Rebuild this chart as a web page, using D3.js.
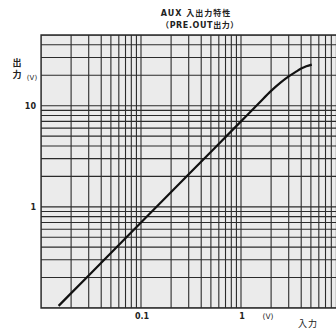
<!DOCTYPE html>
<html>
<head>
<meta charset="utf-8">
<script src="https://cdn.jsdelivr.net/npm/d3@7"></script>
<style>
  body { margin: 0; background: #fff; }
  svg text { font-family: "DejaVu Sans", "Noto Sans CJK JP", sans-serif; fill: #222; }
</style>
</head>
<body>
<svg id="chart" width="336" height="332"></svg>
<script>
// input voltage (V) and output voltage (V)
const inputV = [0.015, 0.03, 0.1, 0.3, 1, 1.5, 2, 2.5, 3, 3.5, 4, 4.5, 5.1];
const outputV = [0.105, 0.21, 0.7, 2.1, 7.0, 10.5, 14, 17, 19.5, 21.5, 23.3, 24.5, 25.5];
const xTickLabels = [0.1, 1];
const yTickLabels = [1, 10];

const svg = d3.select("#chart");
const plotL = 41, plotR = 336, plotT = 35, plotB = 308;

const x = d3.scaleLog().domain([0.01, 9]).range([plotL, plotL + 100 * Math.log10(900)]);
const y = d3.scaleLog().domain([0.1, 50]).range([plotB, plotT]);

svg.append("defs").append("clipPath").attr("id", "plotClip")
  .append("rect").attr("x", plotL).attr("y", plotT)
  .attr("width", plotR - plotL).attr("height", plotB - plotT);

svg.append("rect")
  .attr("x", plotL).attr("y", plotT)
  .attr("width", plotR - plotL).attr("height", plotB - plotT)
  .attr("fill", "#ebebeb");

const g = svg.append("g").attr("clip-path", "url(#plotClip)");

// graph paper grid
const xGrid = [];
for (let d = 0.01; d < 10; d *= 10) for (let k = 1; k <= 9; k++) xGrid.push(d * k);
const yGrid = [];
for (let d = 0.1; d < 100; d *= 10) for (let k = 1; k <= 9; k++) yGrid.push(d * k);

g.selectAll(".vgrid").data(xGrid.filter(v => v <= 9)).enter().append("line")
  .attr("class", "vgrid")
  .attr("x1", d => x(d)).attr("x2", d => x(d))
  .attr("y1", plotT).attr("y2", plotB)
  .attr("stroke", "#2b2b2b").attr("stroke-width", 1.1);

g.selectAll(".hgrid").data(yGrid.filter(v => v <= 50)).enter().append("line")
  .attr("class", "hgrid")
  .attr("x1", plotL).attr("x2", plotR)
  .attr("y1", d => y(d)).attr("y2", d => y(d))
  .attr("stroke", "#2b2b2b").attr("stroke-width", 1.1);

// frame
svg.append("path")
  .attr("d", `M${plotR},${plotT}H${plotL}V${plotB}H${plotR}`)
  .attr("fill", "none").attr("stroke", "#2b2b2b").attr("stroke-width", 1.3);

// characteristic curve
const line = d3.line()
  .x((d, i) => x(inputV[i]))
  .y(d => y(d))
  .curve(d3.curveMonotoneX);

g.append("path")
  .attr("d", line(outputV))
  .attr("fill", "none").attr("stroke", "#111").attr("stroke-width", 2.2);

// axis labels
svg.selectAll(".xl").data(xTickLabels).enter().append("text")
  .attr("x", d => x(d) + 1).attr("y", 319)
  .attr("text-anchor", "middle").attr("font-size", 8).attr("font-weight", "bold")
  .text(d => d);

svg.selectAll(".yl").data(yTickLabels).enter().append("text")
  .attr("x", 36).attr("y", d => y(d) + 3)
  .attr("text-anchor", "end").attr("font-size", 8).attr("font-weight", "bold")
  .text(d => d);

svg.append("text").attr("x", 268).attr("y", 319).attr("text-anchor", "middle")
  .attr("font-size", 7.5).text("(V)");
svg.append("text").attr("x", 308).attr("y", 327).attr("text-anchor", "middle")
  .attr("font-size", 9).attr("letter-spacing", 1).text("入力");

svg.append("text").attr("x", 17).attr("y", 66).attr("text-anchor", "middle")
  .attr("font-size", 9).attr("font-weight", "bold").text("出");
svg.append("text").attr("x", 17).attr("y", 78).attr("text-anchor", "middle")
  .attr("font-size", 9).attr("font-weight", "bold").text("力");
svg.append("text").attr("x", 32).attr("y", 80).attr("text-anchor", "middle")
  .attr("font-size", 7).text("(V)");

// title
svg.append("text").attr("x", 196).attr("y", 16).attr("text-anchor", "middle")
  .attr("font-size", 8).attr("font-weight", "bold").attr("letter-spacing", 1)
  .text("AUX  入出力特性");
svg.append("text").attr("x", 200).attr("y", 28).attr("text-anchor", "middle")
  .attr("font-size", 8).attr("font-weight", "bold").attr("letter-spacing", 0.6)
  .text("（PRE.OUT出力）");
</script>
</body>
</html>
